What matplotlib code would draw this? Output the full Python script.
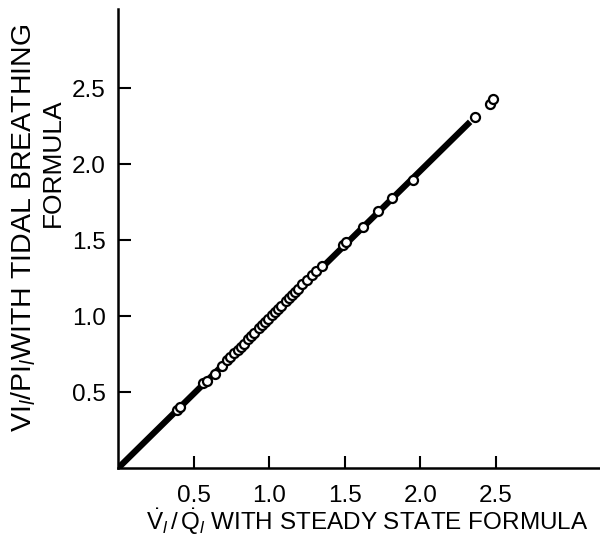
import matplotlib
matplotlib.use("Agg")
import matplotlib.pyplot as plt

plt.rcParams['font.family'] = ['Liberation Sans', 'DejaVu Sans']
plt.rcParams['mathtext.fontset'] = 'custom'
plt.rcParams['mathtext.rm'] = 'Liberation Sans'
plt.rcParams['mathtext.it'] = 'Liberation Sans'
plt.rcParams['mathtext.sf'] = 'Liberation Sans:italic'

# data
x_steady = [0.39, 0.41, 0.56, 0.59, 0.64, 0.69, 0.72, 0.74, 0.77, 0.79, 0.81,
            0.83, 0.86, 0.88, 0.90, 0.93, 0.95, 0.97, 0.99, 1.02, 1.04, 1.06,
            1.08, 1.11, 1.13, 1.15, 1.17, 1.19, 1.22, 1.25, 1.28, 1.31, 1.35,
            1.49, 1.51, 1.62, 1.72, 1.81, 1.95, 2.36, 2.46, 2.48]
y_tidal = [0.38, 0.40, 0.56, 0.57, 0.62, 0.67, 0.71, 0.73, 0.76, 0.78, 0.80,
           0.82, 0.85, 0.87, 0.89, 0.92, 0.94, 0.96, 0.98, 1.01, 1.03, 1.05,
           1.07, 1.10, 1.12, 1.14, 1.16, 1.18, 1.21, 1.24, 1.27, 1.30, 1.33,
           1.47, 1.49, 1.59, 1.69, 1.78, 1.90, 2.31, 2.40, 2.43]
line_x = [0.0, 2.33]
line_y = [0.0, 2.28]
x_ticks = [0.5, 1.0, 1.5, 2.0, 2.5]
x_ticklabels = ['0.5', '1.0', '1.5', '2.0', '2.5']
y_ticks = [0.5, 1.0, 1.5, 2.0, 2.5]
y_ticklabels = ['0.5', '1.0', '1.5', '2.0', '2.5']

fig = plt.figure(figsize=(6.0, 5.42), dpi=100)
ax = fig.add_axes([0.197, 0.1365, 0.803, 0.846])
ax.set_xlim(0, 3.19)
ax.set_ylim(0, 3.02)

ax.plot(line_x, line_y, color='black', lw=4.5, solid_capstyle='butt', zorder=2)
ax.plot(x_steady, y_tidal, linestyle='none', marker='o', ms=6.5,
        mfc='white', mec='black', mew=1.6, zorder=3)

ax.spines['top'].set_visible(False)
ax.spines['right'].set_visible(False)
for s in ('left', 'bottom'):
    ax.spines[s].set_linewidth(1.8)
ax.set_xticks(x_ticks)
ax.set_xticklabels(x_ticklabels)
ax.set_yticks(y_ticks)
ax.set_yticklabels(y_ticklabels)
ax.tick_params(direction='in', length=9, width=1.5, labelsize=17.5, pad=12)
ax.tick_params(axis='y', pad=9)

fig.text(0.612, 0.010,
         r"$\dot{V}_{\mathsf{l}}\,/\,\dot{Q}_{\mathsf{l}}$ WITH STEADY STATE FORMULA",
         ha='center', va='bottom', fontsize=17.5)
fig.text(0.040, 0.58, r"VI$_{\mathsf{l}}$/PI$_{\mathsf{l}}$WITH TIDAL BREATHING",
         ha='center', va='center', rotation=90, fontsize=20.5)
fig.text(0.088, 0.70, "FORMULA", ha='center', va='center', rotation=90, fontsize=19)

fig.savefig('out.png', dpi=100)
